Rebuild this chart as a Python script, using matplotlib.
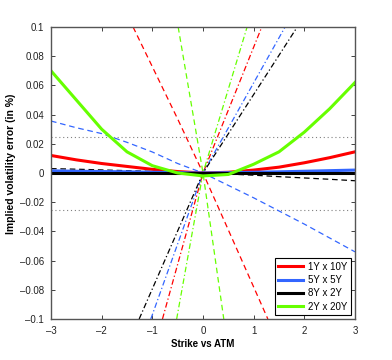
import matplotlib
matplotlib.use("Agg")
import matplotlib.pyplot as plt
from matplotlib.ticker import FixedLocator

plt.rcParams['font.family'] = ['Liberation Sans', 'DejaVu Sans']

# ---- data ----
strikes = [-3, -2.5, -2, -1.5, -1, -0.5, 0, 0.5, 1, 1.5, 2, 2.5, 3]

red_solid   = [0.012, 0.009, 0.0065, 0.0045, 0.0025, 0.001, 0.0, 0.0005, 0.002, 0.004, 0.007, 0.0105, 0.0145]
blue_solid  = [0.0015, 0.0012, 0.001, 0.0008, 0.0005, 0.0002, 0.0, 0.0002, 0.0005, 0.0008, 0.0012, 0.0016, 0.002]
black_solid = [0.0, 0.0, 0.0, 0.0, 0.0, 0.0, 0.0, 0.0, 0.0, 0.0, 0.0, 0.0, 0.0]
green_solid = [0.070, 0.050, 0.030, 0.0145, 0.005, 0.0, -0.002, -0.001, 0.006, 0.0145, 0.028, 0.044, 0.062]

blue_dashed  = [0.0356, 0.031, 0.027, 0.021, 0.0144, 0.0065, 0.0, -0.0085, -0.017, -0.026, -0.035, -0.0445, -0.054]
black_dashed = [0.003, 0.0026, 0.0021, 0.0016, 0.0011, 0.0005, 0.0, -0.0007, -0.0015, -0.0025, -0.0034, -0.0043, -0.0053]

red_dashed_x   = [-1.38, -0.5, 0, 0.5, 1.28]
red_dashed_y   = [0.1, 0.037, 0.0, -0.039, -0.1]
green_dashed_x = [-0.49, -0.25, 0, 0.25, 0.41]
green_dashed_y = [0.1, 0.051, 0.0, -0.061, -0.1]

red_dashdot_x   = [-0.80, 0, 1.16]
red_dashdot_y   = [-0.1, 0.0, 0.1]
blue_dashdot_x  = [-1.03, 0, 1.62]
blue_dashdot_y  = [-0.1, 0.0, 0.1]
black_dashdot_x = [-1.26, 0, 1.86]
black_dashdot_y = [-0.1, 0.0, 0.1]
green_dashdot_x = [-0.52, 0, 0.87]
green_dashdot_y = [-0.1, 0.0, 0.1]

band = 0.025
series_names = ['1Y x 10Y', '5Y x 5Y', '8Y x 2Y', '2Y x 20Y']
x_ticks = [-3, -2, -1, 0, 1, 2, 3]
y_ticks = [-0.1, -0.08, -0.06, -0.04, -0.02, 0, 0.02, 0.04, 0.06, 0.08, 0.1]
y_tick_labels = ['\u20130.1', '\u20130.08', '\u20130.06', '\u20130.04', '\u20130.02', '0',
                 '0.02', '0.04', '0.06', '0.08', '0.1']

RED = '#ff0000'
BLUE = '#3366ff'
BLACK = '#000000'
GREEN = '#66ff00'

fig = plt.figure(figsize=(3.92, 3.6), dpi=100)
ax = fig.add_axes([51/392, 41/360, 304/392, 292/360])

dash = (4.5, 3)
dashdot = (4.5, 2, 1, 2)

# dotted band
ax.axhline(band, color='#808080', lw=0.8, ls=(0, (1, 2.5)))
ax.axhline(-band, color='#808080', lw=0.8, ls=(0, (1, 2.5)))

# dashed (left-slope) lines
ax.plot(red_dashed_x, red_dashed_y, color=RED, lw=0.9, dashes=dash)
ax.plot(strikes, blue_dashed, color=BLUE, lw=0.9, dashes=dash)
ax.plot(strikes, black_dashed, color=BLACK, lw=0.9, dashes=dash)
ax.plot(green_dashed_x, green_dashed_y, color=GREEN, lw=0.9, dashes=dash)

# dash-dot (right-slope) lines
ax.plot(red_dashdot_x, red_dashdot_y, color=RED, lw=0.9, dashes=dashdot)
ax.plot(blue_dashdot_x, blue_dashdot_y, color=BLUE, lw=0.9, dashes=dashdot)
ax.plot(black_dashdot_x, black_dashdot_y, color=BLACK, lw=0.9, dashes=dashdot)
ax.plot(green_dashdot_x, green_dashdot_y, color=GREEN, lw=0.9, dashes=dashdot)

# solid lines
h1, = ax.plot(strikes, red_solid, color=RED, lw=2.2)
h2, = ax.plot(strikes, blue_solid, color=BLUE, lw=2.2)
h3, = ax.plot(strikes, black_solid, color=BLACK, lw=2.2)
h4, = ax.plot(strikes, green_solid, color=GREEN, lw=2.2)

ax.set_xlim(-3, 3)
ax.set_ylim(-0.1, 0.1)
ax.xaxis.set_major_locator(FixedLocator(x_ticks))
ax.set_xticklabels([('\u2013%d' % -v) if v < 0 else str(v) for v in x_ticks])
ax.yaxis.set_major_locator(FixedLocator(y_ticks))
ax.set_yticklabels(y_tick_labels)
ax.tick_params(direction='in', length=3, width=0.6, labelsize=7, colors='#222222',
               top=True, right=True)
ax.tick_params(axis='y', pad=5)
ax.tick_params(axis='x', pad=5)
for s in ax.spines.values():
    s.set_color('#555555')
    s.set_linewidth(1.0)

ax.set_xlabel('Strike vs ATM', fontsize=7, fontweight='bold')
ax.xaxis.set_label_coords(0.5, -0.068)
ax.set_ylabel('Implied volatility error (in %)', fontsize=7.5, fontweight='bold')
ax.yaxis.set_label_coords(-0.115, 0.53)

leg = ax.legend([h1, h2, h3, h4], series_names, loc='lower right', fontsize=7,
                frameon=True, fancybox=False, framealpha=1, edgecolor='black',
                borderaxespad=0.4, handlelength=2.6, handletextpad=0.5,
                labelspacing=0.35, borderpad=0.35)
leg.get_frame().set_linewidth(0.8)

fig.savefig('out.png', dpi=100)
